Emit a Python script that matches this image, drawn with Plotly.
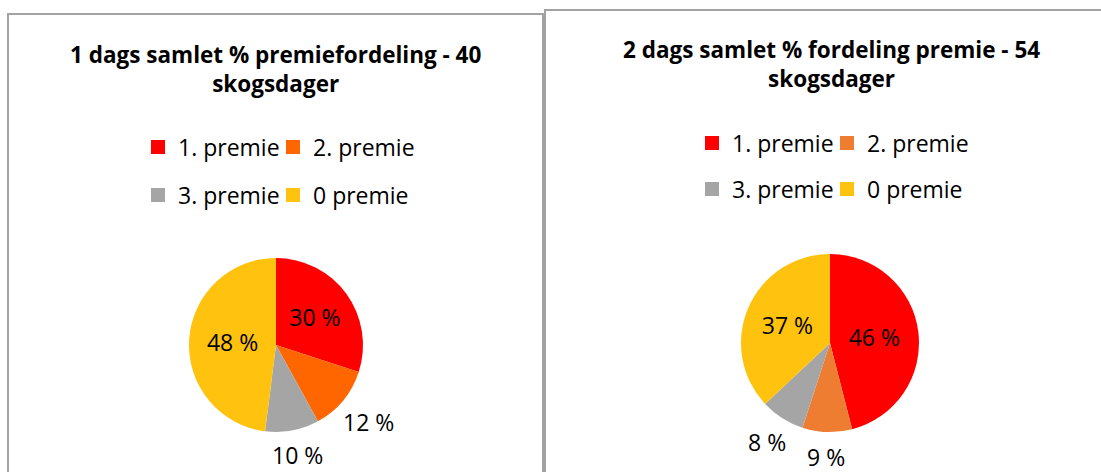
import math
import plotly.graph_objects as go

W, H = 1101, 472

labels = ["1. premie", "2. premie", "3. premie", "0 premie"]
values_1dag = [30, 12, 10, 48]
values_2dag = [46, 9, 8, 37]
colors_1dag = ["#FF0000", "#FF6600", "#A5A5A5", "#FFC20E"]
colors_2dag = ["#FF0000", "#EE7D32", "#A5A5A5", "#FFC20E"]
title_1dag = "1 dags samlet % premiefordeling - 40<br>skogsdager"
title_2dag = "2 dags samlet % fordeling premie - 54<br>skogsdager"
# which slices carry their label inside the pie (others are labelled outside)
inside_1dag = [True, False, False, True]
inside_2dag = [True, False, False, True]

FONT = "Open Sans"
LABEL_SIZE = 23


def px(x):
    return x / W


def py(y):
    return 1 - y / H


def pie_domain(cx, cy, r):
    return dict(x=[px(cx - r), px(cx + r)], y=[py(cy + r), py(cy - r)])


def outside_labels(values, inside, cx, cy, r, gap=10):
    """Place labels of the small slices radially just outside the pie (clockwise from 12 o'clock)."""
    total = float(sum(values))
    out = []
    cum = 0.0
    for v, ins in zip(values, inside):
        mid = (cum + v / 2.0) / total * 2 * math.pi
        cum += v
        if ins:
            continue
        txt = f"{v} %"
        sx, sy = math.sin(mid), -math.cos(mid)  # screen direction (y down)
        hw = 6.6 * len(txt) * LABEL_SIZE / 23.0
        hh = 15.0
        ext = min(hw / max(abs(sx), 1e-6), hh / max(abs(sy), 1e-6))
        d = r + gap + ext
        out.append(dict(text=txt, x=px(cx + d * sx), y=py(cy - d * (-sy))
                        if False else py(cy + d * sy),
                        xref="paper", yref="paper", xanchor="center", yanchor="middle",
                        showarrow=False,
                        font=dict(family=FONT, size=LABEL_SIZE, color="#000000")))
    return out


PIE1 = (276, 345, 87)
PIE2 = (830, 343, 89)

fig = go.Figure()

fig.add_trace(go.Pie(
    labels=labels, values=values_1dag, sort=False, direction="clockwise", rotation=0,
    marker=dict(colors=colors_1dag, line=dict(width=0)),
    texttemplate="%{value} %",
    textposition=["inside" if i else "none" for i in inside_1dag],
    insidetextorientation="horizontal",
    textfont=dict(family=FONT, size=LABEL_SIZE, color="#000000"),
    domain=pie_domain(*PIE1),
    showlegend=False, hoverinfo="label+percent",
))
fig.add_trace(go.Pie(
    labels=labels, values=values_2dag, sort=False, direction="clockwise", rotation=0,
    marker=dict(colors=colors_2dag, line=dict(width=0)),
    texttemplate="%{value} %",
    textposition=["inside" if i else "none" for i in inside_2dag],
    insidetextorientation="horizontal",
    textfont=dict(family=FONT, size=LABEL_SIZE, color="#000000"),
    domain=pie_domain(*PIE2),
    showlegend=False, hoverinfo="label+percent",
))

# Legend entries: two rows per chart, each row its own legend
legend_ids_1 = ["legend", "legend", "legend2", "legend2"]
legend_ids_2 = ["legend3", "legend3", "legend4", "legend4"]
entry_widths = [90, 130, 90, 130]
for lab, col, lg, ew in zip(labels, colors_1dag, legend_ids_1, entry_widths):
    fig.add_trace(go.Scatter(x=[None], y=[None], mode="markers", name=lab,
                             marker=dict(symbol="square", size=14, color=col),
                             legend=lg, legendwidth=ew, showlegend=True, hoverinfo="skip"))
for lab, col, lg, ew in zip(labels, colors_2dag, legend_ids_2, entry_widths):
    fig.add_trace(go.Scatter(x=[None], y=[None], mode="markers", name=lab,
                             marker=dict(symbol="square", size=14, color=col),
                             legend=lg, legendwidth=ew, showlegend=True, hoverinfo="skip"))

leg_common = dict(orientation="h", xanchor="left", yanchor="middle",
                  font=dict(family=FONT, size=23, color="#000000"),
                  bgcolor="rgba(0,0,0,0)", borderwidth=0, itemclick=False)

annotations = [
    dict(text="<b>" + title_1dag + "</b>", x=px(275.5), y=py(69), xref="paper", yref="paper",
         xanchor="center", yanchor="middle", showarrow=False, align="center",
         font=dict(family=FONT, size=22.5, color="#000000")),
    dict(text="<b>" + title_2dag + "</b>", x=px(831), y=py(64), xref="paper", yref="paper",
         xanchor="center", yanchor="middle", showarrow=False, align="center",
         font=dict(family=FONT, size=22.5, color="#000000")),
]
annotations += outside_labels(values_1dag, inside_1dag, *PIE1)
annotations += outside_labels(values_2dag, inside_2dag, *PIE2)

fig.update_layout(
    width=W, height=H, autosize=False,
    margin=dict(l=0, r=0, t=0, b=0),
    paper_bgcolor="white", plot_bgcolor="white",
    xaxis=dict(visible=False), yaxis=dict(visible=False),
    legend=dict(x=px(138), y=py(147), **leg_common),
    legend2=dict(x=px(138), y=py(195), **leg_common),
    legend3=dict(x=px(692), y=py(143), **leg_common),
    legend4=dict(x=px(692), y=py(189), **leg_common),
    shapes=[
        dict(type="rect", xref="paper", yref="paper", x0=px(8), x1=px(543), y0=py(500), y1=py(14),
             line=dict(color="#A3A3A3", width=2), fillcolor="rgba(0,0,0,0)", layer="below"),
        dict(type="rect", xref="paper", yref="paper", x0=px(545), x1=px(1130), y0=py(500), y1=py(10),
             line=dict(color="#A3A3A3", width=2), fillcolor="rgba(0,0,0,0)", layer="below"),
    ],
    annotations=annotations,
)

post = ("document.body.style.margin='0';"
        "document.body.style.overflow='hidden';"
        "document.documentElement.style.overflow='hidden';"
        "Plotly.relayout(document.getElementById('{plot_id}'), {width: 1101, height: 472});")

fig.write_html("out.html", include_plotlyjs=True,
               config={"responsive": False, "displayModeBar": False},
               post_script=post)
